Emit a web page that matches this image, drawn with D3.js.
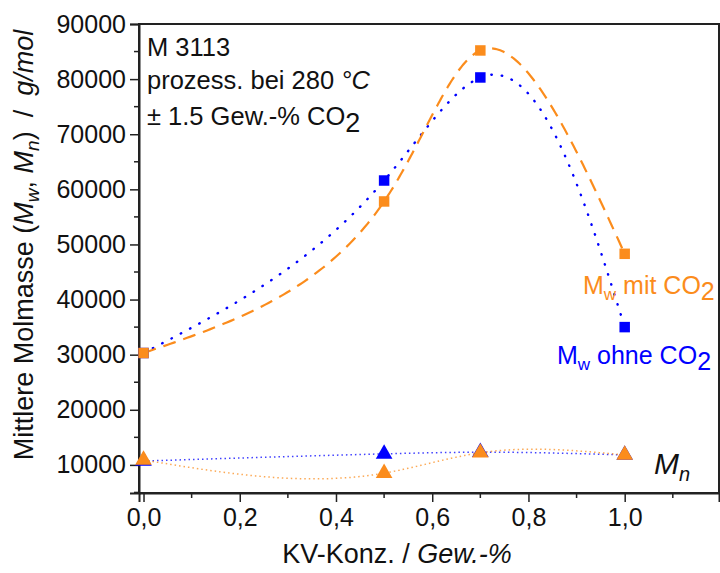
<!DOCTYPE html>
<html><head><meta charset="utf-8">
<script src="https://cdn.jsdelivr.net/npm/d3@7"></script>
<style>body{margin:0;background:#fff}svg{display:block;font-family:"Liberation Sans",Arial,sans-serif}</style>
</head><body><svg id="c" width="720" height="573"></svg>
<script>
const xKonz = [0, 0.5, 0.7, 1.0];
const mwMitCO2 = [30300, 57800, 85200, 48300];
const mwOhneCO2 = [30300, 61600, 80300, 35000];
const mnMitCO2 = [10900, 8500, 12200, 11800];
const mnOhneCO2 = [10700, 12000, 12300, 11800];
const xTicks = [0, 0.2, 0.4, 0.6, 0.8, 1.0];
const yTicks = [10000, 20000, 30000, 40000, 50000, 60000, 70000, 80000, 90000];

const ORANGE = "#fb8c1c", BLUE = "#0000ff";
const svg = d3.select("#c");
const L = 139, R = 719, T = 24, B = 493;
const x = d3.scaleLinear().domain([-0.0094, 1.196]).range([L, R]);
const y = d3.scaleLinear().domain([4900, 90000]).range([B, T]);

// natural cubic spline through (ts, vs), evaluated at t
function natural(ts, vs) {
  const k = ts.length, h = [], s = [];
  for (let i = 0; i < k - 1; i++) { h[i] = ts[i+1] - ts[i]; s[i] = (vs[i+1] - vs[i]) / h[i]; }
  const m = k - 2, a = [], b = [], c = [], r = [];
  for (let i = 1; i <= m; i++) {
    a.push(h[i-1]); b.push(2 * (h[i-1] + h[i])); c.push(h[i]); r.push(6 * (s[i] - s[i-1]));
  }
  for (let i = 1; i < m; i++) { const w = a[i] / b[i-1]; b[i] -= w * c[i-1]; r[i] -= w * r[i-1]; }
  const Mi = new Array(m);
  for (let i = m - 1; i >= 0; i--) Mi[i] = (r[i] - (i < m - 1 ? c[i] * Mi[i+1] : 0)) / b[i];
  const M = [0, ...Mi, 0];
  return (i, t) => {
    const A = (ts[i+1] - t) / h[i], Bc = (t - ts[i]) / h[i];
    return A * vs[i] + Bc * vs[i+1] + ((A*A*A - A) * M[i] + (Bc*Bc*Bc - Bc) * M[i+1]) * h[i] * h[i] / 6;
  };
}
// chord-length parametric spline in screen space (built from the scales)
function splinePath(arr, n) {
  const px = xKonz.map(v => x(v)), py = arr.map(v => y(v));
  const ts = [0];
  for (let i = 1; i < px.length; i++) ts.push(ts[i-1] + Math.hypot(px[i] - px[i-1], py[i] - py[i-1]));
  const fx = natural(ts, px), fy = natural(ts, py);
  const pts = [];
  for (let i = 0; i < ts.length - 1; i++) {
    for (let j = 0; j <= n; j++) {
      if (i > 0 && j === 0) continue;
      const t = ts[i] + (ts[i+1] - ts[i]) * j / n;
      pts.push([fx(i, t), fy(i, t)]);
    }
  }
  return d3.line()(pts);
}

// frame
svg.append("rect").attr("x", L).attr("y", T).attr("width", R - L).attr("height", B - T)
  .attr("fill", "none").attr("stroke", "#222").attr("stroke-width", 2);

// axes
const xAxis = d3.axisBottom(x).tickValues(xTicks).tickSize(9).tickPadding(6)
  .tickFormat(d => d3.format(".1f")(d).replace(".", ","));
const gx = svg.append("g").attr("transform", `translate(0,${B})`).call(xAxis);
const xMinor = d3.range(1, 12, 2).map(d => d / 10);
gx.selectAll(".minor").data(xMinor).enter().append("line").attr("class", "minor")
  .attr("x1", d => x(d)).attr("x2", d => x(d)).attr("y1", 0).attr("y2", 5)
  .attr("stroke", "#222").attr("stroke-width", 1.5);

const yAxis = d3.axisLeft(y).tickValues(yTicks).tickSize(9).tickPadding(4).tickFormat(d3.format("d"));
const gy = svg.append("g").attr("transform", `translate(${L},0)`).call(yAxis);
const yMinor = d3.range(5000, 90000, 10000);
gy.selectAll(".minor").data(yMinor).enter().append("line").attr("class", "minor")
  .attr("x1", 0).attr("x2", -5).attr("y1", d => y(d)).attr("y2", d => y(d))
  .attr("stroke", "#222").attr("stroke-width", 1.5);

[gx, gy].forEach(g => {
  g.select(".domain").attr("stroke", "#222").attr("stroke-width", 2);
  g.selectAll(".tick line").attr("stroke", "#222").attr("stroke-width", 1.5);
  g.selectAll("text").attr("font-size", 25).attr("fill", "#111")
    .attr("font-family", "'Liberation Sans',Arial,sans-serif");
});

// axis titles
const xt = svg.append("text").attr("x", 397).attr("y", 563).attr("text-anchor", "middle")
  .attr("font-size", 27).attr("fill", "#111");
xt.append("tspan").text("KV-Konz. / ");
xt.append("tspan").attr("font-style", "italic").text("Gew.-%");

const yt = svg.append("text").attr("transform", "translate(33,245) rotate(-90)")
  .attr("text-anchor", "middle").attr("font-size", 27).attr("fill", "#111");
yt.append("tspan").text("Mittlere Molmasse (");
yt.append("tspan").attr("font-style", "italic").text("M");
yt.append("tspan").attr("font-style", "italic").attr("font-size", 19).attr("dy", 6).text("w");
yt.append("tspan").attr("dy", -6).text(", ");
yt.append("tspan").attr("font-style", "italic").text("M");
yt.append("tspan").attr("font-style", "italic").attr("font-size", 19).attr("dy", 6).text("n");
yt.append("tspan").attr("dy", -6).text(")");
yt.append("tspan").attr("dx", 14).text("/");
yt.append("tspan").attr("dx", 14).attr("font-style", "italic").text("g/mol");

// lines
svg.append("path").attr("d", splinePath(mwOhneCO2, 80)).attr("fill", "none")
  .attr("stroke", BLUE).attr("stroke-width", 2.4).attr("stroke-dasharray", "0.5 10").attr("stroke-linecap", "round");
svg.append("path").attr("d", splinePath(mwMitCO2, 80)).attr("fill", "none")
  .attr("stroke", ORANGE).attr("stroke-width", 2.2).attr("stroke-dasharray", "13 8");
svg.append("path").attr("d", splinePath(mnOhneCO2, 80)).attr("fill", "none")
  .attr("stroke", BLUE).attr("stroke-width", 1.5).attr("stroke-dasharray", "1.5 3").attr("opacity", 0.75);
svg.append("path").attr("d", splinePath(mnMitCO2, 80)).attr("fill", "none")
  .attr("stroke", ORANGE).attr("stroke-width", 1.5).attr("stroke-dasharray", "1.5 3").attr("opacity", 0.75);

// markers
const mk = arr => xKonz.map((v, i) => [v, arr[i]]);
const sq = d3.symbol().type(d3.symbolSquare).size(110);
const tri = d3.symbol().type(d3.symbolTriangle).size(120);
function marks(arr, color, sym) {
  svg.append("g").selectAll("path").data(mk(arr)).enter().append("path")
    .attr("d", sym).attr("fill", color)
    .attr("transform", d => `translate(${x(d[0])},${y(d[1])})`);
}
marks(mwOhneCO2, BLUE, sq);
marks(mwMitCO2, ORANGE, sq);
marks(mnOhneCO2, BLUE, tri);
marks(mnMitCO2, ORANGE, tri);

// labels
function mwLabel(xp, yp, color, rest) {
  const t = svg.append("text").attr("x", xp).attr("y", yp).attr("font-size", 25).attr("fill", color);
  t.append("tspan").text("M");
  t.append("tspan").attr("font-size", 17).attr("dy", 6).text("w");
  t.append("tspan").attr("dy", -6).text(" " + rest + " CO");
  t.append("tspan").attr("font-size", 25).attr("dy", 6).text("2");
}
mwLabel(583, 294, ORANGE, "mit");
mwLabel(557, 364, BLUE, "ohne");

const mn = svg.append("text").attr("x", 654).attr("y", 474).attr("font-size", 30)
  .attr("font-style", "italic").attr("fill", "#111");
mn.append("tspan").text("M");
mn.append("tspan").attr("font-size", 20).attr("dy", 7).text("n");

// annotation
const ann = svg.append("g").attr("font-size", 25.5).attr("fill", "#111");
ann.append("text").attr("x", 147).attr("y", 56).text("M 3113");
const a2 = ann.append("text").attr("x", 147).attr("y", 89);
a2.append("tspan").text("prozess. bei 280 ");
a2.append("tspan").attr("font-style", "italic").text("°C");
const a3 = ann.append("text").attr("x", 147).attr("y", 125);
a3.append("tspan").text("± 1.5 Gew.-% CO");
a3.append("tspan").attr("font-size", 27).attr("dy", 7).text("2");
</script></body></html>
